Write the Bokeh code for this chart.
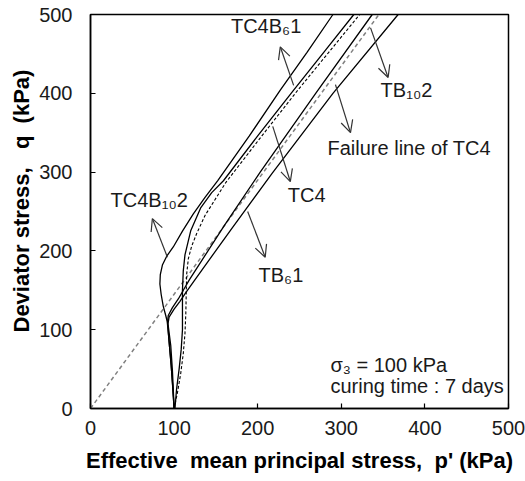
from bokeh.plotting import figure
from bokeh.models import Range1d, Arrow, OpenHead, Label, FixedTicker, Title
from bokeh.embed import file_html
from bokeh.resources import INLINE

# ---------------- data (p' in kPa, q in kPa) ----------------
fail_p = [0, 345]
fail_q = [0, 500]

tc4b10_p = [100, 99, 98, 96, 93, 90, 87, 84.5, 83, 83.5, 86, 91, 99, 110, 123, 137, 152, 190, 227, 259, 290]
tc4b10_q = [0, 25, 48, 80, 105, 118, 130, 145, 158, 170, 182, 193, 205, 225, 247, 268, 289, 346, 404, 452, 500]

tc4b6_p = [101, 103, 106, 108.5, 110, 110, 110, 111, 113, 120, 132, 145, 159, 200, 243, 279, 315]
tc4b6_q = [0, 25, 50, 75, 100, 125, 150, 175, 195, 226, 255, 274, 289, 346, 404, 452, 500]

tc4_p = [100, 104, 108, 111, 113, 114, 114.5, 115, 117, 121, 127, 137, 162, 205, 248, 285, 322]
tc4_q = [0, 20, 45, 70, 95, 120, 145, 170, 190, 206, 222, 245, 287, 346, 404, 452, 500]

tb6_p = [100, 98.5, 96.5, 94, 92, 93, 98, 105, 111, 118, 160, 203, 270, 337]
tb6_q = [0, 25, 55, 85, 108, 118, 128, 139, 150, 163, 232, 300, 401, 500]

tb10_p = [100, 98.5, 96.5, 94, 92.5, 94, 100, 107, 114, 124, 170, 217, 290, 368]
tb10_q = [0, 25, 55, 85, 106, 116, 126, 136, 147, 162, 230, 298, 400, 500]

ticks = [0, 100, 200, 300, 400, 500]

# annotation texts, anchor (left, middle) in data units
label_texts = ["TC4B\u20861", "TB\u2081\u20802", "Failure line of TC4", "TC4", "TC4B\u2081\u20802", "TB\u20861",
               "\u03c3\u2083 = 100 kPa", "curing time : 7 days"]
label_x = [168, 347, 283.5, 236, 24, 201, 287, 287]
label_y = [485, 404, 330, 271, 264, 170, 55, 28]

# arrows: start on curve -> head near label
arr_x0 = [243, 92, 218, 293, 335, 188]
arr_y0 = [410, 192, 358, 411, 483, 250]
arr_x1 = [227, 74, 239, 311, 356, 209]
arr_y1 = [459, 241, 288, 350, 420, 192]

x_title = "Effective\u00a0 mean principal stress,\u00a0 p' (kPa)"
y_title = "Deviator stress,\u00a0\u00a0 q\u00a0 (kPa)"

FONT = "Liberation Sans"

p = figure(width=525, height=481, output_backend="svg", toolbar_location=None,
           x_range=Range1d(0, 500), y_range=Range1d(0, 500),
           min_border_left=90, min_border_right=17, min_border_top=14, min_border_bottom=73,
           background_fill_color="white", border_fill_color="white")

p.xgrid.visible = False
p.ygrid.visible = False
p.outline_line_color = "black"
p.outline_line_width = 1.5

for ax in (p.xaxis[0], p.yaxis[0]):
    ax.ticker = FixedTicker(ticks=ticks)
    ax.major_tick_in = 5
    ax.major_tick_out = 0
    ax.minor_tick_line_color = None
    ax.axis_line_color = "black"
    ax.axis_line_width = 1.5
    ax.major_tick_line_color = "black"
    ax.major_tick_line_width = 1.2
    ax.major_label_text_font = FONT
    ax.major_label_text_font_size = "20px"
    ax.major_label_text_color = "#1a1a1a"
    ax.axis_label_text_font = FONT
    ax.axis_label_text_font_style = "bold"
    ax.axis_label_text_color = "black"

p.xaxis.axis_label_text_font_size = "22px"
p.xaxis.axis_label = x_title
p.xaxis.major_label_standoff = 12
p.yaxis.major_label_standoff = 18
p.xaxis.axis_label_standoff = 10

# y-axis title as a side title (sits a little above the frame centre, as in the reference)
p.add_layout(Title(text=y_title, align="left", offset=76, standoff=6,
                   text_font=FONT, text_font_style="bold", text_font_size="22px",
                   text_color="black"), "left")

# failure line
p.line(fail_p, fail_q, line_color="#808080", line_width=1.5, line_dash="4 3")
# stress paths
p.line(tc4b10_p, tc4b10_q, line_color="black", line_width=1.3)
p.line(tc4b6_p, tc4b6_q, line_color="black", line_width=1.3)
p.line(tc4_p, tc4_q, line_color="black", line_width=1.1, line_dash="3 2")
p.line(tb6_p, tb6_q, line_color="black", line_width=1.3)
p.line(tb10_p, tb10_q, line_color="black", line_width=1.3)

for t, x, y in zip(label_texts, label_x, label_y):
    p.add_layout(Label(x=x, y=y, text=t, text_font=FONT, text_font_size="20px",
                       text_color="#1a1a1a", text_align="left", text_baseline="middle"))

for x0, y0, x1, y1 in zip(arr_x0, arr_y0, arr_x1, arr_y1):
    p.add_layout(Arrow(end=OpenHead(size=12, line_width=1.2, line_color="#333333"),
                       x_start=x0, y_start=y0, x_end=x1, y_end=y1,
                       line_color="#333333", line_width=1.2))

open("out.html", "w").write(file_html(p, INLINE))
